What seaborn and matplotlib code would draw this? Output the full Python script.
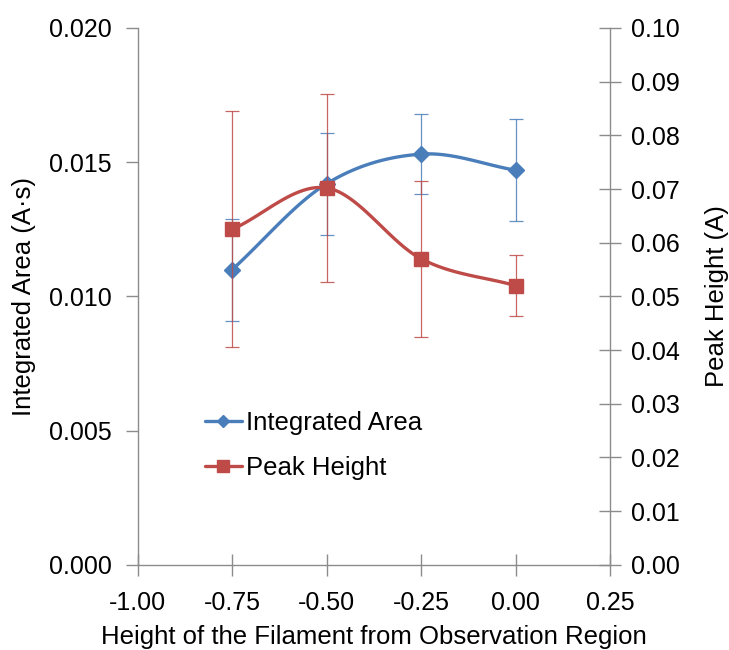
import numpy as np
import pandas as pd
import matplotlib
matplotlib.use("Agg")
import matplotlib.pyplot as plt
import seaborn as sns
from matplotlib.lines import Line2D

# ---- data ----
heights = [-0.75, -0.50, -0.25, 0.00]
area = [0.0110, 0.0142, 0.0153, 0.0147]
area_err = [0.0019, 0.0019, 0.0015, 0.0019]
peak = [0.0625, 0.0702, 0.0570, 0.0520]
peak_err = [0.0220, 0.0175, 0.0145, 0.0057]

xticks = [-1.00, -0.75, -0.50, -0.25, 0.00, 0.25]
yticks_left = [0.000, 0.005, 0.010, 0.015, 0.020]
yticks_right = [0.00, 0.01, 0.02, 0.03, 0.04, 0.05, 0.06, 0.07, 0.08, 0.09, 0.10]

BLUE = "#4A7EBB"
RED = "#BE4B48"
GRAY = "#8C8C8C"


def catmull_rom(xs, ys, n=40):
    """Smooth curve through points (similar to Excel smoothed line)."""
    P = np.column_stack([xs, ys]).astype(float)
    P = np.vstack([2 * P[0] - P[1], P, 2 * P[-1] - P[-2]])
    out = []
    for i in range(1, len(P) - 2):
        p0, p1, p2, p3 = P[i - 1], P[i], P[i + 1], P[i + 2]
        t = np.linspace(0, 1, n)[:, None]
        seg = 0.5 * ((2 * p1) + (-p0 + p2) * t + (2 * p0 - 5 * p1 + 4 * p2 - p3) * t ** 2
                     + (-p0 + 3 * p1 - 3 * p2 + p3) * t ** 3)
        out.append(seg if i == 1 else seg[1:])
    out = np.vstack(out)
    return out[:, 0], out[:, 1]


sns.set_theme(style="white")
plt.rcParams["font.family"] = ["Liberation Sans", "DejaVu Sans"]
plt.rcParams["text.color"] = "black"
plt.rcParams["axes.labelcolor"] = "black"
plt.rcParams["xtick.labelcolor"] = "black"
plt.rcParams["ytick.labelcolor"] = "black"

fig = plt.figure(figsize=(7.29, 6.5), dpi=100)
ax = fig.add_axes([0.189, 0.131, 0.648, 0.826])
ax2 = ax.twinx()

ax.set_xlim(-1.0, 0.25)
ax.set_ylim(0, 0.020)
ax2.set_ylim(0, 0.10)

# smooth curves
sx, sy = catmull_rom(np.array(heights), np.array(area) / 0.020)
df_a = pd.DataFrame({"x": sx, "y": sy * 0.020})
sx2, sy2 = catmull_rom(np.array(heights), np.array(peak) / 0.10)
df_p = pd.DataFrame({"x": sx2, "y": sy2 * 0.10})

ax.errorbar(heights, area, yerr=area_err, fmt="none", ecolor=BLUE, elinewidth=0.9,
            capsize=5, capthick=0.9, alpha=0.85, zorder=2)
sns.lineplot(data=df_a, x="x", y="y", ax=ax, color=BLUE, linewidth=2.4, sort=False,
             estimator=None, zorder=3)
ax.plot(heights, area, linestyle="none", marker="D", markersize=8.5, color=BLUE, zorder=4)

ax2.errorbar(heights, peak, yerr=peak_err, fmt="none", ecolor=RED, elinewidth=0.9,
             capsize=5, capthick=0.9, alpha=0.85, zorder=2)
sns.lineplot(data=df_p, x="x", y="y", ax=ax2, color=RED, linewidth=2.4, sort=False,
             estimator=None, zorder=3)
ax2.plot(heights, peak, linestyle="none", marker="s", markersize=9.5, color=RED, zorder=4)

# ticks & labels
ax.set_xticks(xticks)
ax.set_xticklabels([f"{v:.2f}" for v in xticks])
ax.set_yticks(yticks_left)
ax.set_yticklabels([f"{v:.3f}" for v in yticks_left])
ax2.set_yticks(yticks_right)
ax2.set_yticklabels([f"{v:.2f}" for v in yticks_right])

FS = 18
ax.tick_params(axis="x", direction="inout", length=16, width=1, color=GRAY,
               labelsize=FS, pad=11, bottom=True)
ax.tick_params(axis="y", direction="out", length=9, width=1, color=GRAY,
               labelsize=FS, pad=10, left=True)
ax2.tick_params(axis="y", direction="inout", length=16, width=1, color=GRAY,
                labelsize=FS, pad=7, right=True)

LFS = 18.5
ax.set_xlabel("Height of the Filament from Observation Region", fontsize=LFS, labelpad=7)
ax.set_ylabel("Integrated Area (A·s)", fontsize=LFS, labelpad=9)
ax2.set_ylabel("Peak Height (A)", fontsize=LFS, labelpad=18)

for a in (ax, ax2):
    a.spines["top"].set_visible(False)
    for s in ("left", "right", "bottom"):
        a.spines[s].set_color(GRAY)
        a.spines[s].set_linewidth(1)
    a.grid(False)
ax2.spines["left"].set_visible(False)
ax2.spines["bottom"].set_visible(False)
ax.spines["right"].set_visible(False)

handles = [
    Line2D([], [], color=BLUE, linewidth=2.4, marker="D", markersize=6.5),
    Line2D([], [], color=RED, linewidth=2.4, marker="s", markersize=8),
]
ax2.legend(handles, ["Integrated Area", "Peak Height"], loc="center left",
           bbox_to_anchor=(0.1145, 0.222), frameon=False, fontsize=LFS,
           handlelength=1.45, handletextpad=0.15, labelspacing=0.8, borderpad=0)

fig.savefig("out.png", dpi=100, facecolor="white")
